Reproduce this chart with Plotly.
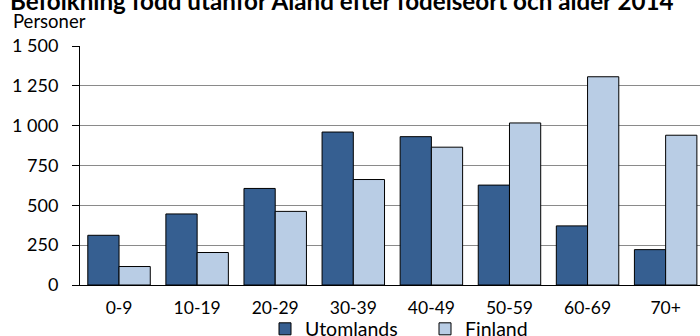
import plotly.graph_objects as go

categories = ["0-9", "10-19", "20-29", "30-39", "40-49", "50-59", "60-69", "70+"]
utomlands = [312, 446, 606, 960, 931, 627, 371, 222]
finland = [116, 204, 462, 662, 865, 1017, 1307, 940]
ytickvals = [0, 250, 500, 750, 1000, 1250, 1500]
yticktext = ["0", "250", "500", "750", "1 000", "1 250", "1 500"]

font = "Lato"
PW = 620.0
PH = 239.3
T = 46.0


def px_x(p):
    return (p - 80) / PW


def px_y(p):
    return 1 + (T - p) / PH


fig = go.Figure()
fig.add_trace(go.Bar(name="Utomlands", x=categories, y=utomlands,
                     marker=dict(color="#365F91", line=dict(color="#000000", width=1))))
fig.add_trace(go.Bar(name="Finland", x=categories, y=finland,
                     marker=dict(color="#B9CDE5", line=dict(color="#000000", width=1))))

fig.update_layout(
    width=700, height=336,
    margin=dict(l=80, r=0, t=46, b=51, autoexpand=False),
    paper_bgcolor="white", plot_bgcolor="white",
    barmode="group", bargap=0.2, bargroupgap=0,
    font=dict(family=font, size=18, color="black"),
    showlegend=True,
    legend=dict(orientation="h", x=px_x(265), xanchor="left", y=px_y(329.5), yanchor="middle",
                font=dict(size=19.5), itemwidth=30, traceorder="normal",
                entrywidth=115, entrywidthmode="pixels", bgcolor="rgba(0,0,0,0)"),
    xaxis=dict(range=[-0.5, 7.44], showline=True, linecolor="black", linewidth=1,
               ticks="", tickfont=dict(size=17.5), ticklabelstandoff=7),
    yaxis=dict(range=[0, 1500], tickvals=ytickvals, ticktext=yticktext,
               showgrid=True, gridcolor="#8a8a8a", gridwidth=1,
               showline=True, linecolor="black", linewidth=1,
               ticks="outside", ticklen=7, tickcolor="black",
               tickfont=dict(size=18), ticklabelstandoff=10, zeroline=False),
    annotations=[
        dict(text="<b>Befolkning född utanför Åland efter födelseort och ålder 2014</b>",
             xref="paper", yref="paper", x=px_x(8), y=px_y(0), xanchor="left", yanchor="middle",
             showarrow=False, font=dict(size=24.2, family=font)),
        dict(text="Personer", xref="paper", yref="paper", x=px_x(11), y=px_y(21),
             xanchor="left", yanchor="middle", showarrow=False, font=dict(size=18.5, family=font)),
    ],
)

fig.write_html("out.html", config={"displayModeBar": False},
               post_script="document.body.style.margin='0';document.body.style.overflow='hidden';")
